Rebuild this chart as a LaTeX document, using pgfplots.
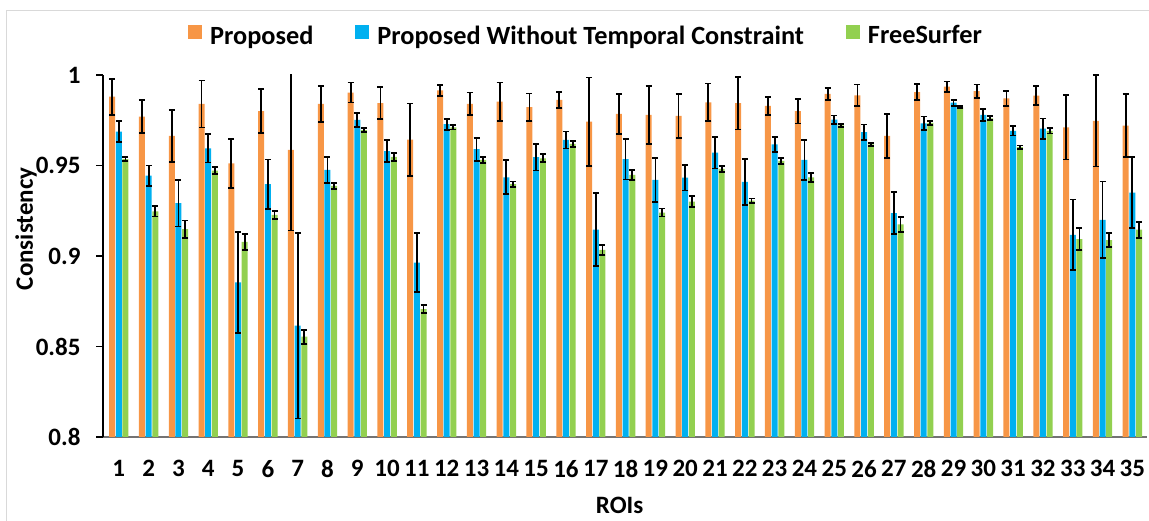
\documentclass[border=0pt]{standalone}
\usepackage{fontspec}
\setmainfont{Carlito}
\usepackage{pgfplots}
\pgfplotsset{compat=1.18}
\usepackage{pgfplotstable}

\definecolor{cOrange}{HTML}{F79646}
\definecolor{cBlue}{HTML}{00B0F0}
\definecolor{cGreen}{HTML}{92D050}
\newcommand\chartfont{\fontsize{25}{30}\selectfont\bfseries}
\newcommand\legendfont{\fontsize{26.3}{30}\selectfont\bfseries}

% ROI consistency: mean and error for each method
\pgfplotstableread{
x  o      oe     b      be     g      ge
1  0.9880 0.0100 0.9687 0.0059 0.9535 0.0011
2  0.9770 0.0092 0.9444 0.0056 0.9246 0.0028
3  0.9663 0.0144 0.9292 0.0129 0.9148 0.0048
4  0.9840 0.0130 0.9595 0.0078 0.9472 0.0020
5  0.9512 0.0135 0.8854 0.0278 0.9078 0.0044
6  0.9801 0.0123 0.9397 0.0136 0.9227 0.0022
7  0.9586 0.0445 0.8615 0.0513 0.8554 0.0039
8  0.9840 0.0098 0.9476 0.0072 0.9387 0.0018
9  0.9903 0.0055 0.9752 0.0040 0.9696 0.0010
10 0.9845 0.0088 0.9580 0.0060 0.9547 0.0022
11 0.9643 0.0199 0.8964 0.0162 0.8707 0.0024
12 0.9915 0.0030 0.9728 0.0030 0.9711 0.0012
13 0.9840 0.0063 0.9590 0.0064 0.9531 0.0018
14 0.9853 0.0105 0.9435 0.0094 0.9397 0.0015
15 0.9823 0.0075 0.9546 0.0074 0.9540 0.0022
16 0.9862 0.0044 0.9641 0.0047 0.9619 0.0017
17 0.9742 0.0244 0.9145 0.0202 0.9034 0.0028
18 0.9785 0.0110 0.9535 0.0112 0.9448 0.0026
19 0.9779 0.0161 0.9420 0.0120 0.9240 0.0022
20 0.9774 0.0120 0.9433 0.0071 0.9301 0.0030
21 0.9849 0.0104 0.9571 0.0088 0.9481 0.0018
22 0.9844 0.0145 0.9409 0.0128 0.9306 0.0012
23 0.9829 0.0050 0.9616 0.0043 0.9525 0.0015
24 0.9800 0.0068 0.9531 0.0112 0.9435 0.0024
25 0.9895 0.0035 0.9753 0.0023 0.9722 0.0009
26 0.9888 0.0059 0.9684 0.0042 0.9616 0.0009
27 0.9663 0.0121 0.9237 0.0115 0.9174 0.0042
28 0.9906 0.0043 0.9733 0.0038 0.9735 0.0011
29 0.9936 0.0028 0.9847 0.0017 0.9823 0.0007
30 0.9911 0.0037 0.9779 0.0035 0.9761 0.0011
31 0.9871 0.0041 0.9691 0.0025 0.9601 0.0010
32 0.9886 0.0052 0.9704 0.0056 0.9691 0.0014
33 0.9711 0.0178 0.9117 0.0195 0.9093 0.0061
34 0.9746 0.0252 0.9200 0.0212 0.9088 0.0037
35 0.9720 0.0175 0.9350 0.0195 0.9145 0.0045
}\roidata

\pgfplotsset{
  errstyle/.style={
    error bars/.cd, y dir=both, y explicit,
    error bar style={line width=1.8pt, black},
    error mark=|,
    error mark options={line width=1.8pt, mark size=3pt, black},
  },
}

\begin{document}
\begin{tikzpicture}[x=1pt,y=1pt]
\useasboundingbox (0,0) rectangle (1149,521);
% light chart-area frame
\draw[black!15, line width=1pt] (6,-2) -- (6,510.5) -- (1155,510.5);
\begin{axis}[
  at={(103pt,84pt)}, anchor=south west,
  scale only axis, width=1043.7pt, height=362pt,
  xmin=0.47, xmax=35.48, ymin=0.8, ymax=1,
  ybar=0.67pt, bar width=6pt,
  axis x line*=bottom, axis y line*=left,
  axis line style={-, line width=1.2pt},
  x axis line style={black!55},
  y axis line style={black},
  xtick=data,
  major x tick style={draw=none},
  ytick={0.8,0.85,0.9,0.95,1},
  yticklabels={0.8,0.85,0.9,0.95,1},
  tick align=outside,
  major tick length=7pt,
  major y tick style={black, line width=1.2pt},
  tick label style={font=\chartfont},
  yticklabel style={xshift=-12pt},
  xticklabel style={yshift=-13pt},
  /pgf/number format/assume math mode=true,
  ylabel={Consistency},
  ylabel style={at={(axis description cs:-0.0738,0.575)}, anchor=center, font=\chartfont},
  xlabel={ROIs},
  xlabel style={at={(axis description cs:0.495,-0.188)}, anchor=center, font=\chartfont},
  legend columns=-1,
  legend style={draw=none, fill=none, font=\legendfont,
    at={(axis description cs:0.4628,1.109)}, anchor=center,
    /tikz/every odd column/.append style={column sep=6pt},
    /tikz/every even column/.append style={column sep=40pt}},
  legend image code/.code={\fill[#1] (0pt,-3pt) rectangle (14pt,11pt);},
]
\addplot[fill=cOrange, draw=none, errstyle] table[x=x, y=o, y error=oe] {\roidata};
\addplot[fill=cBlue, draw=none, errstyle] table[x=x, y=b, y error=be] {\roidata};
\addplot[fill=cGreen, draw=none, errstyle] table[x=x, y=g, y error=ge] {\roidata};
\legend{Proposed, Proposed Without Temporal Constraint, FreeSurfer}
\end{axis}
\end{tikzpicture}
\end{document}
